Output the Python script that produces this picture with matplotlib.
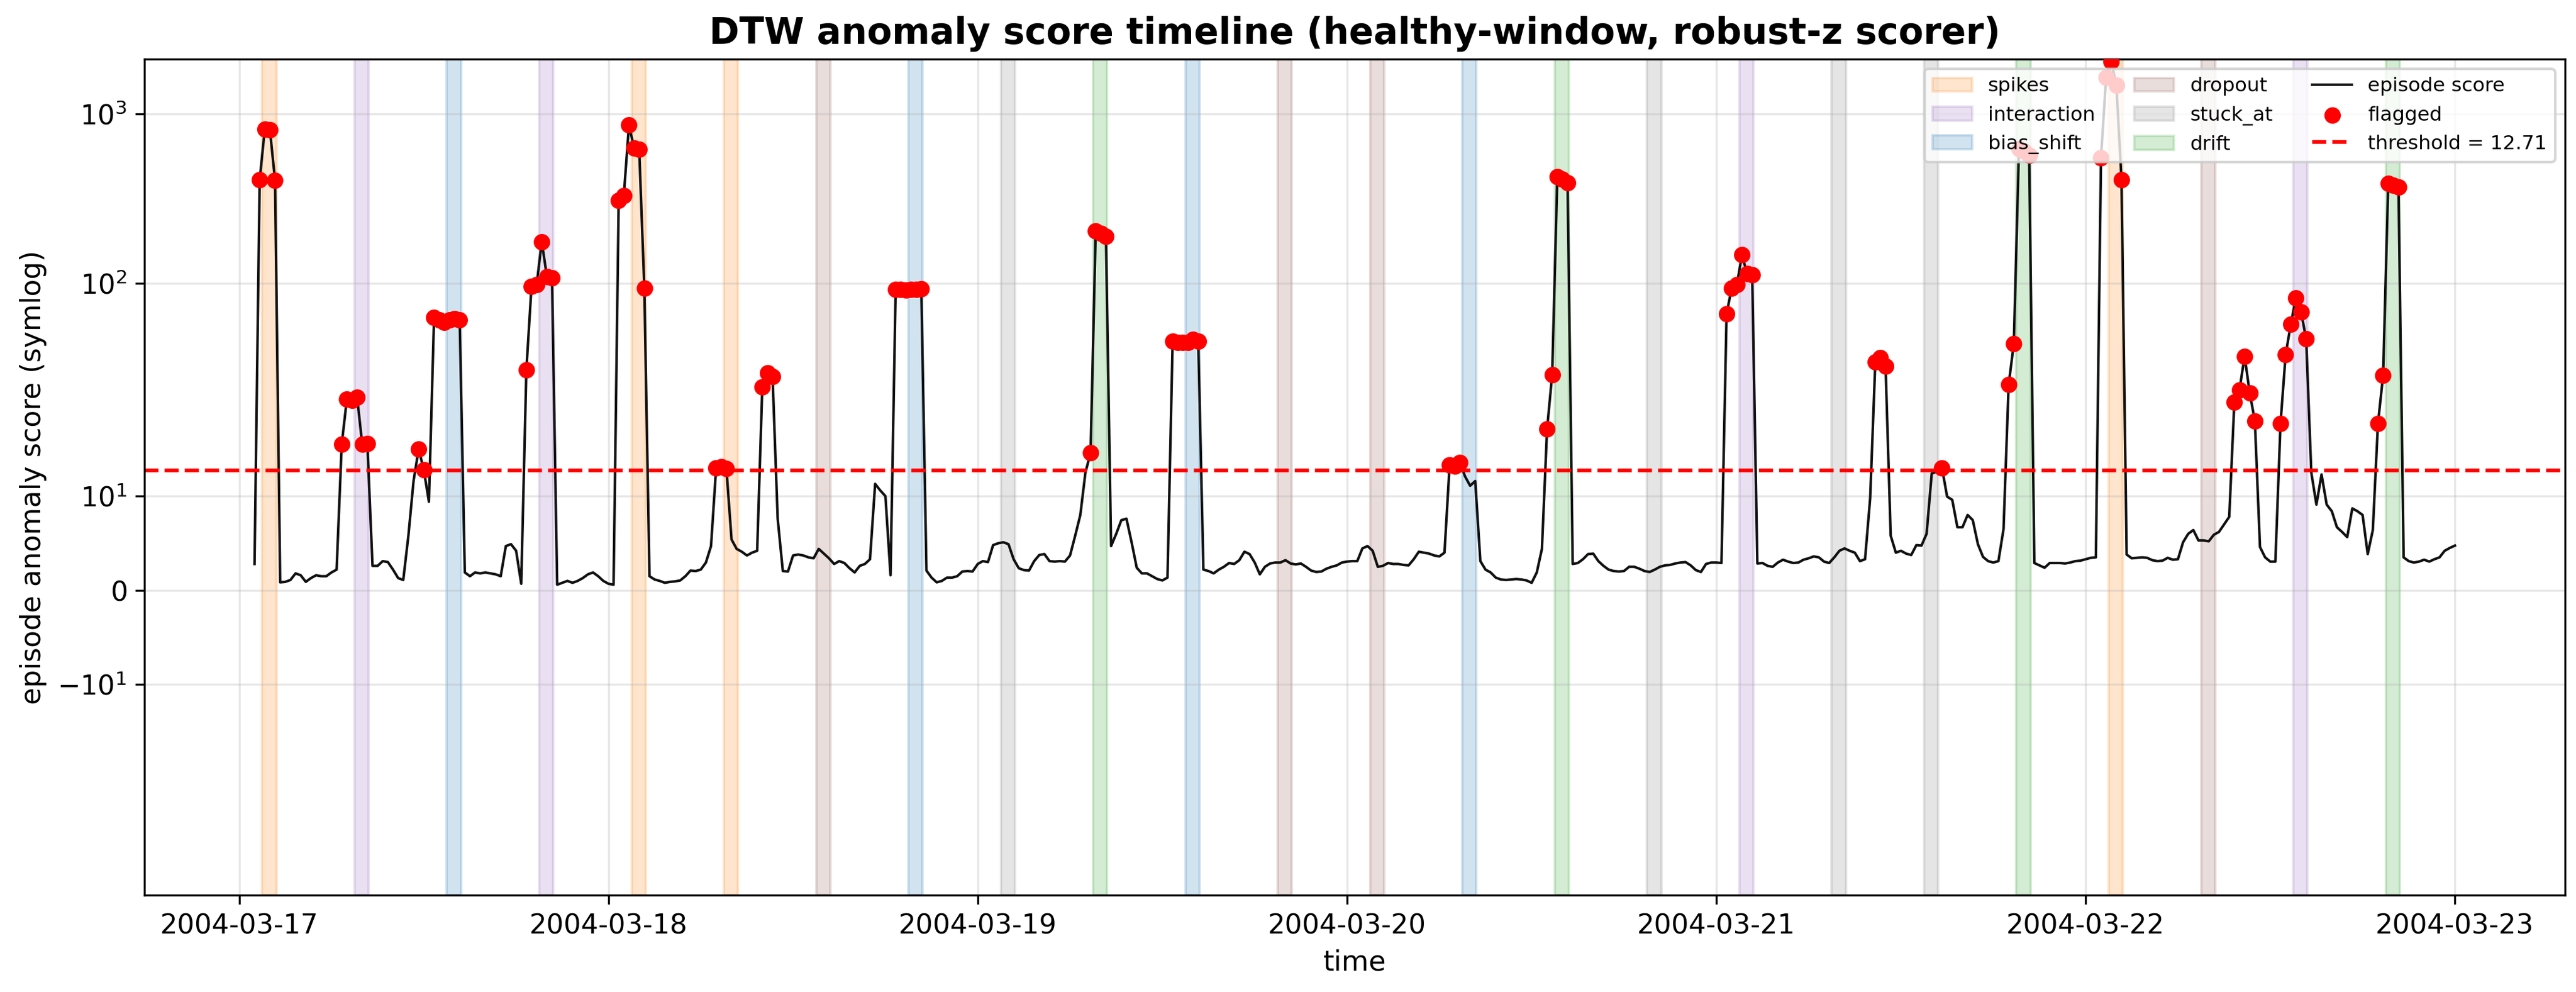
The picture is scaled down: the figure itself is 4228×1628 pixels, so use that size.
import numpy as np
import pandas as pd
import matplotlib
matplotlib.use("Agg")
import matplotlib.pyplot as plt

# 阈值（robust-z scorer 给出的）
threshold = 12.71

# 每天的 episode 分数，20 分钟一个 episode
day_17 = [2.8, 407, 811, 805, 405, 0.85, 0.9, 1.1, 1.8, 1.6,
          0.9, 1.3, 1.6, 1.5, 1.5, 1.9, 2.2, 15.5, 20.7, 20.4,
          21.3, 15.5, 15.6, 2.6, 2.6, 3.1, 3.0, 2.2, 1.3, 1.1,
          5.8, 11.6, 15.0, 12.8, 9.4, 63, 61, 59, 61, 62,
          61, 1.9, 1.5, 1.9, 1.8, 1.9, 1.8, 1.7, 1.5, 4.7,
          4.9, 4.2, 0.7, 31, 96, 98, 176, 110, 108, 0.6,
          0.8, 1.0, 0.8, 1.0, 1.3, 1.7, 1.9, 1.5, 1.0]
day_18 = [0.7, 0.6, 309, 330, 857, 630, 615, 94, 1.5, 1.15,
          1.0, 0.8, 0.9, 0.95, 1.05, 1.5, 2.1, 2.05, 2.2, 2.95,
          4.7, 13.0, 13.1, 12.9, 5.4, 4.4, 4.1, 3.7, 4.0, 4.2,
          24.6, 29.6, 28.3, 7.6, 2.05, 2.0, 3.7, 3.8, 3.7, 3.5,
          3.4, 4.4, 3.9, 3.4, 2.8, 3.1, 2.9, 2.35, 1.9, 2.6,
          2.8, 3.3, 11.3, 10.6, 10.0, 1.6, 92, 92, 91, 92,
          92, 93, 2.1, 1.35, 0.85, 1.0, 1.35, 1.35, 1.5, 2.0,
          2.05, 2.0]
day_19 = [2.8, 3.1, 3.0, 4.8, 5.0, 5.1, 4.9, 3.3, 2.35, 2.15,
          2.1, 3.1, 3.75, 3.85, 3.1, 3.05, 3.1, 3.05, 3.7, 5.8,
          8.0, 12.5, 14.6, 204, 197, 189, 4.7, 6.0, 7.45, 7.6,
          5.1, 2.4, 1.8, 1.8, 1.5, 1.2, 1.05, 1.35, 45.7, 45,
          44.8, 44.8, 46.9, 45.7, 2.2, 2.05, 1.8, 2.2, 2.5, 2.9,
          2.8, 3.2, 4.1, 3.85, 2.95, 1.7, 2.5, 2.85, 2.95, 2.95,
          3.2, 2.85, 2.75, 2.85, 2.5, 2.1, 1.95, 2.0, 2.3, 2.5,
          2.65, 2.95]
day_20 = [3.05, 3.1, 3.1, 4.45, 4.7, 4.2, 2.5, 2.6, 2.9, 2.8,
          2.8, 2.7, 2.65, 3.3, 4.1, 4.0, 3.9, 3.7, 3.6, 4.0,
          13.3, 13.2, 13.6, 12.1, 11.1, 11.6, 3.1, 2.2, 1.9, 1.35,
          1.15, 1.1, 1.15, 1.2, 1.15, 1.05, 0.8, 1.9, 4.4, 17.1,
          29, 427, 411, 391, 2.8, 2.9, 3.3, 3.85, 3.9, 3.1,
          2.6, 2.2, 2.05, 2.0, 2.05, 2.5, 2.5, 2.3, 2.05, 1.95,
          2.2, 2.5, 2.65, 2.7, 2.85, 2.95, 3.0, 2.65, 2.15, 1.95,
          2.8, 2.95]
day_21 = [2.95, 2.9, 66, 94, 98, 147, 114, 112, 2.85, 2.9,
          2.6, 2.5, 2.95, 3.25, 3.05, 2.9, 2.95, 3.25, 3.4, 3.6,
          3.5, 3.05, 2.9, 3.5, 4.2, 4.45, 4.2, 4.0, 3.1, 3.3,
          9.8, 34.5, 36.5, 32.5, 5.8, 4.0, 4.2, 3.9, 3.75, 4.8,
          4.75, 6.0, 12.4, 12.6, 13.0, 9.95, 9.6, 6.7, 6.7, 8.0,
          7.45, 4.9, 3.55, 3.1, 2.95, 3.1, 6.5, 25.4, 44, 620,
          600, 570, 2.9, 2.65, 2.4, 2.9, 2.9, 2.9, 2.85, 2.95,
          3.1, 3.15]
day_22 = [3.3, 3.45, 3.5, 550, 1640, 2030, 1470, 407, 3.8, 3.4,
          3.45, 3.5, 3.45, 3.2, 3.1, 3.15, 3.45, 3.25, 3.3, 5.1,
          6.0, 6.4, 5.3, 5.3, 5.2, 5.9, 6.2, 7.0, 7.8, 20.0,
          23.5, 37.2, 22.5, 18.0, 4.6, 3.5, 3.05, 3.05, 17.7, 38.0,
          57.5, 82, 68, 47, 12.5, 9.1, 12.3, 9.1, 8.4, 6.7,
          6.2, 5.65, 8.7, 8.4, 8.0, 3.85, 6.4, 17.7, 28.6, 389,
          380, 370, 3.5, 3.1, 2.95, 3.05, 3.25, 3.05, 3.3, 3.5,
          4.2, 4.5, 4.75]

scores = np.array(day_17 + day_18 + day_19 + day_20 + day_21 + day_22)
times = pd.date_range("2004-03-17 01:00", periods=len(scores), freq="20min")

# 注入的异常段
anomaly_starts = ["2004-03-17 01:30", "2004-03-17 07:30", "2004-03-17 13:30", "2004-03-17 19:30",
                  "2004-03-18 01:30", "2004-03-18 07:30", "2004-03-18 13:30", "2004-03-18 19:30",
                  "2004-03-19 01:30", "2004-03-19 07:30", "2004-03-19 13:30", "2004-03-19 19:30",
                  "2004-03-20 01:30", "2004-03-20 07:30", "2004-03-20 13:30", "2004-03-20 19:30",
                  "2004-03-21 01:30", "2004-03-21 07:30", "2004-03-21 13:30", "2004-03-21 19:30",
                  "2004-03-22 01:30", "2004-03-22 07:30", "2004-03-22 13:30", "2004-03-22 19:30"]
anomaly_types = ["spikes", "interaction", "bias_shift", "interaction",
                 "spikes", "spikes", "dropout", "bias_shift",
                 "stuck_at", "drift", "bias_shift", "dropout",
                 "dropout", "bias_shift", "drift", "stuck_at",
                 "interaction", "stuck_at", "stuck_at", "drift",
                 "spikes", "dropout", "interaction", "drift"]
anomaly_len = pd.Timedelta(minutes=55)
type_colors = {"spikes": "tab:orange", "interaction": "tab:purple", "bias_shift": "tab:blue",
               "dropout": "tab:brown", "stuck_at": "tab:gray", "drift": "tab:green"}

fig, ax = plt.subplots(figsize=(4228 / 300, 1628 / 300), dpi=300)
fig.subplots_adjust(left=0.0561, right=0.9957, top=0.9404, bottom=0.0977)

seen = set()
for start, kind in zip(anomaly_starts, anomaly_types):
    t0 = pd.Timestamp(start)
    ax.axvspan(t0, t0 + anomaly_len, color=type_colors[kind], alpha=0.2,
               label=kind if kind not in seen else "_nolegend_")
    seen.add(kind)

ax.plot(times, scores, color="#111111", lw=1.0, label="episode score", zorder=2)
flagged = scores > threshold
ax.scatter(times[flagged], scores[flagged], s=30, color="red", zorder=3, label="flagged")
ax.axhline(threshold, color="red", ls="--", lw=1.5, label=f"threshold = {threshold:.2f}")

ax.set_yscale("symlog", linthresh=20)
ax.set_ylim(-97, 2100)
ax.grid(True, alpha=0.3)
ax.tick_params(labelsize=10.75)
ax.set_xlabel("time", fontsize=11)
ax.set_ylabel("episode anomaly score (symlog)", fontsize=11)
ax.set_title("DTW anomaly score timeline (healthy-window, robust-z scorer)",
             fontsize=14.3, fontweight="bold")
ax.legend(loc="upper right", ncol=3, fontsize=7.8)

plt.savefig("out.png", dpi=300)
